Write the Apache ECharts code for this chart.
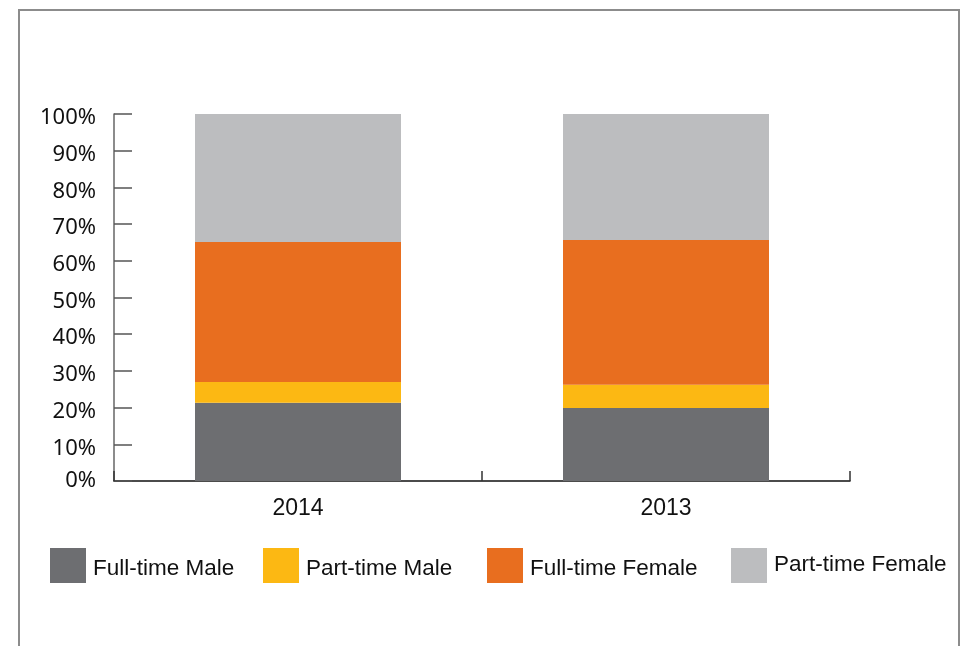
<!DOCTYPE html>
<html>
<head>
<meta charset="utf-8">
<script src="https://cdn.jsdelivr.net/npm/echarts@6/dist/echarts.min.js"></script>
<style>
  html, body { margin: 0; padding: 0; background: #fff; }
  #chart { width: 964px; height: 646px; }
</style>
</head>
<body>
<div id="chart"></div>
<script>
// Workforce composition by employment type and gender (% of total)
const years = ['2014', '2013'];
const fullTimeMale = [21.3, 19.9];
const partTimeMale = [5.7, 6.3];
const fullTimeFemale = [38.1, 39.5];
const partTimeFemale = [34.9, 34.3];
const yTicks = [0, 10, 20, 30, 40, 50, 60, 70, 80, 90, 100];

const seriesNames = ['Full-time Male', 'Part-time Male', 'Full-time Female', 'Part-time Female'];
const seriesColors = ['#6d6e71', '#fcb813', '#e86e1f', '#bcbdbf'];
const seriesData = [fullTimeMale, partTimeMale, fullTimeFemale, partTimeFemale];

const chart = echarts.init(document.getElementById('chart'), null, { renderer: 'canvas' });

// One legend block per series so each entry sits at its own position
const legendLefts = [50, 263, 487, 731];
const legends = seriesNames.map((name, i) => ({
  data: [name],
  left: legendLefts[i],
  top: 548,
  padding: 0,
  orient: 'horizontal',
  itemWidth: 36,
  itemHeight: 35,
  selectedMode: false,
  icon: 'rect',
  formatter: n => '{t|' + n + '}',
  textStyle: {
    rich: {
      t: {
        fontFamily: 'Liberation Sans',
        fontSize: 22.5,
        color: '#111',
        padding: i === 3 ? [0, 0, 2, 2] : [6, 0, 0, 2]
      }
    }
  }
}));

const labelFont = { fontFamily: 'Noto Sans', fontSize: 22, color: '#111' };

chart.setOption({
  animation: false,
  backgroundColor: '#fff',
  graphic: [{
    type: 'rect',
    shape: { x: 19, y: 10, width: 940, height: 700 },
    style: { fill: 'none', stroke: '#8c8c8c', lineWidth: 2 },
    silent: true
  }],
  legend: legends,
  grid: { left: 114, right: 114, top: 114, bottom: 165, containLabel: false },
  xAxis: {
    type: 'category',
    data: years,
    axisLine: { lineStyle: { color: '#111', width: 1.5 } },
    axisTick: { show: true, inside: true, length: 10, lineStyle: { color: '#333', width: 1.5 } },
    axisLabel: { fontFamily: 'Liberation Sans', fontSize: 23, color: '#111', margin: 16 }
  },
  yAxis: {
    type: 'value',
    min: yTicks[0],
    max: yTicks[yTicks.length - 1],
    interval: yTicks[1] - yTicks[0],
    splitLine: { show: false },
    axisLine: { show: true, lineStyle: { color: '#666', width: 1.5 } },
    axisTick: { show: true, inside: true, length: 18, lineStyle: { color: '#555', width: 1.5 } },
    axisLabel: {
      margin: 18,
      formatter: v => (v === 0 ? '{z|' : '{p|') + v + '%}',
      rich: {
        p: Object.assign({ padding: [8, 0, 0, 0] }, labelFont),
        z: Object.assign({ padding: [0, 0, 0, 0] }, labelFont)
      }
    }
  },
  series: seriesNames.map((name, i) => ({
    name: name,
    type: 'bar',
    stack: 'total',
    barWidth: 206,
    itemStyle: { color: seriesColors[i] },
    data: seriesData[i]
  }))
});
</script>
</body>
</html>
